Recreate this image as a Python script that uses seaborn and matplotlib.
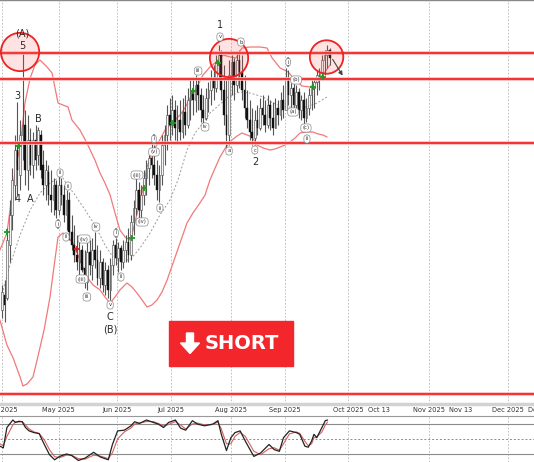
import numpy as np
import pandas as pd
import matplotlib
matplotlib.use("Agg")
import matplotlib.pyplot as plt
import seaborn as sns
from matplotlib.patches import Rectangle, Polygon

# daily bars (chart price units), Apr 1 -> late Sep 2025
bar_high = [115, 120, 172, 200, 232, 265, 298, 280, 347, 290, 285, 272, 268, 275, 273, 270,
            250, 240, 235, 230, 222, 220, 225, 222, 215, 210, 208, 185, 175, 165, 160, 155,
            150, 158, 160, 162, 168, 155, 150, 142, 138, 135, 142, 160, 162, 158, 155, 160,
            165, 172, 185, 200, 222, 218, 215, 230, 240, 250, 257, 255, 240, 235, 265, 275,
            295, 302, 305, 300, 295, 300, 302, 305, 312, 320, 320, 325, 322, 312, 305, 312,
            318, 330, 335, 345, 355, 350, 335, 320, 340, 345, 342, 348, 350, 345, 325, 310,
            300, 292, 290, 295, 302, 305, 300, 305, 300, 298, 302, 300, 308, 315, 332, 330,
            322, 320, 315, 312, 305, 308, 302, 312, 320, 322, 330, 332, 345, 350, 355, 352]
bar_low = [82, 78, 100, 138, 170, 200, 205, 210, 240, 215, 210, 225, 222, 230, 235, 222,
           205, 200, 195, 188, 185, 182, 185, 195, 178, 170, 160, 150, 138, 130, 125, 128,
           112, 110, 125, 120, 132, 115, 112, 108, 105, 102, 100, 125, 135, 128, 130, 132,
           138, 138, 140, 165, 185, 178, 182, 195, 205, 215, 222, 215, 200, 198, 215, 235,
           250, 260, 265, 260, 257, 260, 262, 265, 272, 280, 285, 288, 290, 278, 275, 280,
           288, 295, 300, 308, 320, 300, 275, 252, 255, 305, 300, 308, 312, 300, 282, 272,
           260, 255, 255, 265, 270, 275, 268, 272, 270, 265, 272, 275, 280, 282, 292, 295,
           290, 285, 288, 282, 280, 275, 278, 285, 290, 292, 305, 310, 320, 325, 332, 335]
bar_open = [90, 105, 102, 155, 185, 215, 250, 225, 265, 275, 230, 260, 235, 260, 245, 265,
            235, 215, 228, 205, 200, 215, 190, 215, 205, 185, 200, 168, 155, 145, 138, 150,
            132, 118, 148, 135, 150, 140, 122, 138, 115, 130, 110, 135, 155, 142, 152, 138,
            150, 158, 145, 178, 192, 210, 190, 205, 222, 232, 242, 235, 225, 210, 225, 255,
            265, 285, 275, 290, 272, 280, 268, 288, 275, 300, 310, 300, 315, 305, 290, 282,
            302, 310, 322, 312, 338, 345, 310, 285, 265, 325, 338, 315, 340, 328, 310, 292,
            280, 268, 262, 280, 272, 292, 285, 275, 295, 282, 272, 292, 285, 300, 290, 322,
            305, 312, 295, 308, 290, 300, 282, 292, 305, 312, 318, 325, 328, 340, 345, 350]
bar_close = [108, 95, 160, 185, 220, 250, 230, 265, 275, 230, 260, 235, 260, 240, 270, 230,
             215, 230, 205, 200, 215, 190, 215, 205, 185, 200, 168, 155, 145, 138, 150, 130,
             118, 148, 135, 150, 140, 122, 138, 115, 130, 110, 135, 155, 142, 152, 138, 150,
             158, 145, 178, 192, 210, 190, 205, 222, 232, 242, 235, 225, 210, 225, 255, 265,
             285, 275, 290, 272, 280, 268, 288, 275, 300, 310, 300, 315, 305, 290, 282, 302,
             310, 322, 312, 338, 345, 310, 285, 265, 325, 338, 315, 340, 328, 310, 292, 280,
             268, 262, 280, 272, 292, 285, 275, 295, 282, 272, 292, 285, 300, 290, 322, 305,
             312, 295, 308, 290, 300, 282, 292, 305, 312, 318, 325, 328, 340, 345, 350, 342]

# bollinger bands (20) sampled along the bar axis
upper_x = [-0.8, 0.8, 1.9, 3.9, 5.4, 7.0, 8.9, 10.9, 12.8, 14.7, 17.1, 19.4, 21.7, 23.6, 25.6,
           27.1, 30.2, 32.9, 36.0, 38.0, 39.9, 41.9, 43.8, 45.7, 47.7, 49.6, 50.8, 52.7, 54.3,
           56.2, 58.1, 60.5, 63.2, 65.9, 69.0, 70.9, 72.9, 75.6, 77.9, 80.6, 82.6, 85.7, 88.4,
           90.7, 93.0, 96.1, 100.0, 102.7, 104.7, 107.8, 110.9, 113.6, 116.3, 119.4, 121.7,
           123.3, 125.2, 127.1]
upper_y = [150, 160, 167, 205, 235, 253, 297, 322, 335, 340, 334, 327, 297, 295, 293,
           280, 270, 257, 240, 227, 217, 205, 187, 170, 163, 160, 170, 190, 207,
           233, 247, 257, 270, 277, 285, 292, 302, 313, 325, 333, 337, 345, 343,
           342, 352, 353, 353, 352, 342, 332, 328, 320, 314, 313, 317,
           322, 328, 335]
lower_x = [-0.8, 1.9, 4.3, 7.0, 8.1, 9.7, 12.0, 13.6, 16.3, 18.6, 20.5, 21.7, 23.6, 25.6, 27.5,
           30.2, 32.9, 35.3, 38.0, 39.9, 41.9, 43.8, 45.7, 48.4, 50.4, 52.3, 54.3, 56.2, 58.1,
           60.1, 62.0, 64.0, 66.3, 69.0, 71.7, 74.0, 76.7, 78.7, 80.6, 82.6, 84.5, 86.8, 89.1,
           91.1, 93.0, 95.0, 96.9, 98.8, 101.2, 103.9, 105.8, 107.8, 109.7, 111.6, 113.6, 115.5,
           118.2, 120.5, 122.5, 124.4, 126.0]
lower_y = [80, 55, 42, 23, 14, 16, 23, 40, 70, 103, 140, 163, 167, 163, 157,
           140, 123, 115, 110, 103, 97, 103, 110, 117, 113, 107, 100, 93, 95,
           100, 108, 120, 137, 157, 177, 187, 197, 205, 220, 232, 243, 253, 260,
           264, 267, 265, 263, 255, 252, 250, 251, 253, 255, 258, 262, 267,
           268, 268, 266, 265, 263]
mid_x = [0.4, 3.1, 7.0, 10.9, 14.7, 18.6, 21.7, 23.6, 25.6, 28.3, 32.2, 36.0, 39.9, 43.0, 45.7,
         49.6, 53.5, 57.4, 61.2, 65.1, 68.2, 71.7, 74.8, 77.9, 80.6, 83.3, 87.6, 92.2, 96.1,
         101.2, 105.0, 108.9, 112.8, 118.2, 122.1, 126.0]
mid_y = [110, 135, 165, 190, 207, 217, 222, 222, 214, 205, 190, 175, 155, 143, 140,
         140, 152, 167, 185, 200, 220, 250, 267, 277, 287, 293, 303, 308, 307,
         303, 297, 293, 293, 293, 297, 303]

# horizontal levels
levels = [347, 321, 257, 6]

# band-cross signals
buy_x = [1.9, 6.6, 50.4, 55.0, 66.3, 74.0, 83.7, 120.5, 124.4]
buy_y = [168, 254, 162, 212, 277, 309, 337, 313, 323]
sell_x = [29.1]
sell_y = [151]

# date axis
month_pos = [0, 21.9, 44.4, 65.5, 88.6, 109.8, 134.1, 165.5, 196.0]
month_labels = ["Apr 2025", "May 2025", "Jun 2025", "Jul 2025", "Aug 2025", "Sep 2025",
                "Oct 2025", "Nov 2025", "Dec 2025"]
mid_pos = [146.1, 177.7]
mid_labels = ["Oct 13", "Nov 13"]

# stochastic oscillator
stoch_x = [-0.8, 0.5, 1.9, 4.2, 5.2, 6.5, 7.8, 9.1, 10.5, 12.4, 14.4, 16.4, 18.4, 20.4, 22.3,
           25.0, 26.9, 29.6, 32.2, 35.5, 38.2, 41.2, 42.8, 44.8, 47.4, 50.0, 51.4, 53.3, 56.0,
           58.6, 60.6, 62.6, 64.6, 67.2, 69.2, 71.2, 73.8, 75.8, 78.5, 81.7, 83.7, 85.0, 87.0,
           88.7, 90.3, 92.3, 94.3, 97.6, 100.2, 103.5, 105.5, 107.5, 109.1, 111.4, 114.1,
           115.4, 117.4, 118.7, 120.0, 120.9, 122.0, 124.0, 125.3, 126.2]
stoch_k = [35.2, 31.7, 72.9, 88.1, 83.2, 85.5, 84.6, 72.9, 66.1, 62.6, 60.6, 38.6, 18.0, 7.7,
           14.5, 19.4, 16.6, 6.3, 11.1, 22.8, 13.1, 7.7, 38.6, 66.1, 67.5, 76.4, 84.6, 81.2,
           88.1, 83.2, 79.8, 72.9, 83.2, 88.1, 71.7, 67.5, 86.7, 79.8, 76.4, 79.8, 86.7, 59.2,
           26.3, 52.3, 62.6, 66.1, 45.5, 14.5, 21.4, 38.6, 28.3, 24.8, 52.3, 66.1, 62.6, 59.2,
           35.2, 33.1, 45.5, 59.2, 52.3, 72.9, 86.7, 88.1]
stoch_d = [40, 36, 55, 78, 84, 84, 85, 78, 70, 64, 61, 48, 28, 14,
           12, 17, 17, 10, 9, 17, 15, 10, 22, 50, 64, 72, 80, 82,
           85, 85, 81, 76, 79, 85, 78, 70, 80, 82, 78, 79, 84, 70,
           40, 40, 55, 63, 55, 25, 18, 30, 32, 27, 40, 60, 64, 61,
           45, 36, 40, 52, 54, 64, 78, 84]

# elliott wave labels
wave_text = ["(A)", "5", "3", "B", "4", "A", "C", "(B)", "1", "2"]
wave_x = [7.8, 7.8, 5.8, 14.0, 6.2, 10.9, 41.9, 41.9, 84.5, 98.1]
wave_y = [366, 354, 304, 281, 201, 201, 83, 70, 375, 238]
sub_text = ["ii", "ii", "i", "ii", "(iv)", "iv", "(iii)", "iii", "v", "i", "ii", "(iii)",
            "(iv)", "i", "(v)", "ii", "iii", "iv", "v", "a", "b", "c", "i", "(b)", "(a)",
            "(c)", "ii"]
sub_x = [22.5, 25.6, 21.7, 24.8, 31.8, 36.4, 31.0, 32.9, 41.9, 44.2, 46.1, 52.3,
         54.3, 58.9, 58.9, 61.2, 76.0, 78.7, 84.5, 88.0, 92.6, 98.0, 110.9, 114.0, 112.8,
         117.8, 118.2]
sub_y = [227, 214, 176, 163, 161, 173, 121, 103, 95, 167, 123, 225,
         178, 261, 248, 192, 329, 273, 363, 249, 358, 250, 338, 320, 288,
         272, 261]

# highlighted extremes
circle_x = [7.0, 88.0, 125.8]
circle_y = [348, 342, 343]

sns.set_theme(style="white")
plt.rcParams['font.family'] = ['DejaVu Sans']

W, H = 534, 462
fig = plt.figure(figsize=(W / 100, H / 100), dpi=100)
ax = fig.add_axes([0, 1 - 404 / H, 1, 404 / H])
ax2 = fig.add_axes([0, 0, 1, 46.5 / H])

xmin, xmax = -0.78, 206.2
ax.set_xlim(xmin, xmax)
ax.set_ylim(-4, 400)

# month grid
for p in month_pos:
    ax.axvline(p, color='#b5b5b5', lw=0.6, ls=(0, (2, 2)), zorder=0)
    ax2.axvline(p, color='#b5b5b5', lw=0.6, ls=(0, (2, 2)), zorder=0)

# candles
o = np.array(bar_open, float)
c = np.array(bar_close, float)
idx = np.arange(len(o))
up = c >= o
ax.vlines(idx, bar_low, bar_high, color='#555555', lw=0.8, zorder=3)
ax.bar(idx[up], (c - o)[up], bottom=o[up], width=0.65, color='#f4f4f4',
       edgecolor='#444444', lw=0.4, zorder=4)
ax.bar(idx[~up], (o - c)[~up], bottom=c[~up], width=0.65, color='#111111',
       edgecolor='#111111', lw=0.3, zorder=4)

# bands
band = '#f07a7a'
sns.lineplot(x=upper_x, y=upper_y, ax=ax, color=band, lw=0.9, estimator=None, sort=False, zorder=2)
sns.lineplot(x=lower_x, y=lower_y, ax=ax, color=band, lw=0.9, estimator=None, sort=False, zorder=2)
sns.lineplot(x=mid_x, y=mid_y, ax=ax, color='#9a9a9a', lw=0.7, estimator=None, sort=False,
             linestyle=(0, (2, 2)), zorder=2)

for lv in levels:
    ax.axhline(lv, color='#ffb8b8', lw=2.6, zorder=5)
    ax.axhline(lv, color='#ee1c1c', lw=1.2, zorder=5)

ax.scatter(buy_x, buy_y, marker='+', s=22, color='#1f9a1f', lw=1.3, zorder=7)
ax.scatter(sell_x, sell_y, marker='+', s=22, color='#cc2222', lw=1.3, zorder=7)

ax.scatter(circle_x, circle_y, s=[760, 760, 580], facecolor=(1, 0.35, 0.35, 0.17),
           edgecolor='#ee2222', lw=1.3, zorder=6)

# projected move
ax.annotate('', xy=(132.6, 322), xytext=(127.6, 343),
            arrowprops=dict(arrowstyle='-|>', color='#444444', lw=0.8, mutation_scale=6),
            zorder=8)

for t, x, y in zip(wave_text, wave_x, wave_y):
    ax.text(x, y, t, ha='center', va='center', fontsize=7, color='#2a2a2a', zorder=8)
for t, x, y in zip(sub_text, sub_x, sub_y):
    ax.text(x, y, t, ha='center', va='center', fontsize=3.8, color='#333333', zorder=8,
            bbox=dict(boxstyle='round,pad=0.3,rounding_size=0.6', fc='white',
                      ec='#8a8a8a', lw=0.5))

# axes cosmetics
ax.set_yticks([])
ax.set_xticks(month_pos, month_labels)
ax.set_xticks(mid_pos, mid_labels, minor=True)
ax.tick_params(axis='x', which='both', length=0, pad=2.5, labelsize=4.8, colors='#333333')
ax.text(208.5, -0.016, "Dec 15", transform=ax.get_xaxis_transform(), ha='center', va='center',
        fontsize=4.8, color='#333333', clip_on=False)
for s in ['left', 'right']:
    ax.spines[s].set_visible(False)
ax.spines['top'].set_color('#888888')
ax.spines['top'].set_linewidth(1.0)
ax.spines['bottom'].set_color('#d2d2d2')
ax.spines['bottom'].set_linewidth(2.5)
ax.set_xlabel('')
ax.set_ylabel('')

# stochastic panel
ax2.set_xlim(xmin, xmax)
ax2.set_ylim(3.2, 97.2)
ax2.axhline(80, color='#8c8c8c', lw=0.8, zorder=1)
ax2.axhline(20, color='#8c8c8c', lw=0.8, zorder=1)
ax2.axhline(50, color='#8c8c8c', lw=0.7, ls=(0, (2, 2)), zorder=1)
sns.lineplot(x=stoch_x, y=stoch_d, ax=ax2, color='#d66060', lw=0.8, estimator=None, sort=False, zorder=3)
sns.lineplot(x=stoch_x, y=stoch_k, ax=ax2, color='#222222', lw=0.9, estimator=None, sort=False, zorder=4)
ax2.set_xticks([])
ax2.set_yticks([])
for s in ['left', 'right', 'bottom']:
    ax2.spines[s].set_visible(False)
ax2.spines['top'].set_color('#999999')
ax2.spines['top'].set_linewidth(0.8)

# signal badge
fig.add_artist(Rectangle((169 / W, 1 - 366 / H), 124 / W, 45 / H, transform=fig.transFigure,
                         color='#f3262b', zorder=10))
# block arrow glyph (pixel outline, top-left origin)
arrow_px = [(186.5, 333), (193.5, 333), (193.5, 343), (199.5, 343), (190, 353.5),
            (180.5, 343), (186.5, 343)]
fig.add_artist(Polygon([(px / W, 1 - py / H) for px, py in arrow_px], closed=True,
                       transform=fig.transFigure, color='white', zorder=11))
fig.text(242 / W, 1 - 343.5 / H, 'SHORT', color='white', fontsize=14, weight='bold',
         ha='center', va='center', zorder=11)

fig.savefig('out.png', dpi=100)
